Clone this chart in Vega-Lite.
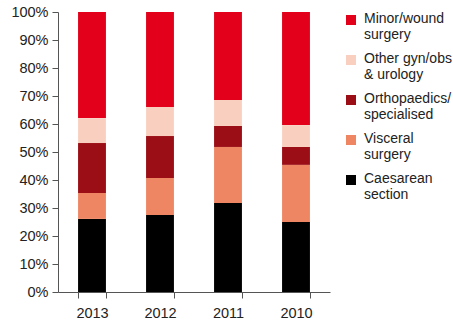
{
  "$schema": "https://vega.github.io/schema/vega-lite/v6.json",
  "autosize": "none",
  "width": 272,
  "height": 280,
  "padding": {"left": 58, "top": 12, "right": 123, "bottom": 37},
  "background": "white",
  "config": {
    "view": {"stroke": null},
    "font": "Liberation Sans",
    "axis": {"labelFont": "Liberation Sans", "labelFontSize": 14.5, "labelColor": "#222", "domainColor": "#555", "tickColor": "#555", "grid": false, "title": null, "labelOverlap": false}
  },
  "data": {
    "values": [
      {"year": "2013", "cat": "Caesarean section", "rank": 1, "value": 26.1},
      {"year": "2013", "cat": "Visceral surgery", "rank": 2, "value": 9.3},
      {"year": "2013", "cat": "Orthopaedics/ specialised", "rank": 3, "value": 17.8},
      {"year": "2013", "cat": "Other gyn/obs & urology", "rank": 4, "value": 8.9},
      {"year": "2013", "cat": "Minor/wound surgery", "rank": 5, "value": 37.9},
      {"year": "2012", "cat": "Caesarean section", "rank": 1, "value": 27.5},
      {"year": "2012", "cat": "Visceral surgery", "rank": 2, "value": 13.2},
      {"year": "2012", "cat": "Orthopaedics/ specialised", "rank": 3, "value": 15.0},
      {"year": "2012", "cat": "Other gyn/obs & urology", "rank": 4, "value": 10.4},
      {"year": "2012", "cat": "Minor/wound surgery", "rank": 5, "value": 33.9},
      {"year": "2011", "cat": "Caesarean section", "rank": 1, "value": 31.8},
      {"year": "2011", "cat": "Visceral surgery", "rank": 2, "value": 20.0},
      {"year": "2011", "cat": "Orthopaedics/ specialised", "rank": 3, "value": 7.5},
      {"year": "2011", "cat": "Other gyn/obs & urology", "rank": 4, "value": 9.3},
      {"year": "2011", "cat": "Minor/wound surgery", "rank": 5, "value": 31.4},
      {"year": "2010", "cat": "Caesarean section", "rank": 1, "value": 25.0},
      {"year": "2010", "cat": "Visceral surgery", "rank": 2, "value": 20.4},
      {"year": "2010", "cat": "Orthopaedics/ specialised", "rank": 3, "value": 6.4},
      {"year": "2010", "cat": "Other gyn/obs & urology", "rank": 4, "value": 7.8},
      {"year": "2010", "cat": "Minor/wound surgery", "rank": 5, "value": 40.4}
    ]
  },
  "mark": {"type": "bar"},
  "encoding": {
    "x": {
      "field": "year", "type": "nominal", "sort": ["2013", "2012", "2011", "2010"],
      "scale": {"paddingInner": 0.59, "paddingOuter": 0.295},
      "axis": {"labelAngle": 0, "tickBand": "extent", "tickSize": 6, "labelPadding": 8}
    },
    "y": {
      "field": "value", "type": "quantitative", "stack": "normalize",
      "scale": {"domain": [0, 1]},
      "axis": {"format": ".0%", "values": [0, 0.1, 0.2, 0.3, 0.4, 0.5, 0.6, 0.7, 0.8, 0.9, 1], "tickSize": 6, "labelPadding": 4}
    },
    "order": {"field": "rank", "type": "quantitative"},
    "color": {
      "field": "cat", "type": "nominal",
      "scale": {
        "domain": ["Minor/wound surgery", "Other gyn/obs & urology", "Orthopaedics/ specialised", "Visceral surgery", "Caesarean section"],
        "range": ["#E2001A", "#F9D0C0", "#9B0E15", "#EE8663", "#000000"]
      },
      "legend": {
        "title": null,
        "orient": "none",
        "legendX": 286,
        "legendY": 1,
        "padding": 0,
        "symbolType": "square",
        "symbolSize": 100,
        "symbolStrokeWidth": 0,
        "labelFont": "Liberation Sans",
        "labelFontSize": 14,
        "labelColor": "#222",
        "labelLimit": 200,
        "labelOffset": 6,
        "labelBaseline": "top",
        "rowPadding": 10,
        "labelExpr": "datum.label == 'Minor/wound surgery' ? ['Minor/wound', 'surgery'] : datum.label == 'Other gyn/obs & urology' ? ['Other gyn/obs', '& urology'] : datum.label == 'Orthopaedics/ specialised' ? ['Orthopaedics/', 'specialised'] : datum.label == 'Visceral surgery' ? ['Visceral', 'surgery'] : ['Caesarean', 'section']",
        "labelLineHeight": 17,
        "encode": {"labels": {"update": {"dy": {"value": -8}}}}
      }
    }
  }
}
